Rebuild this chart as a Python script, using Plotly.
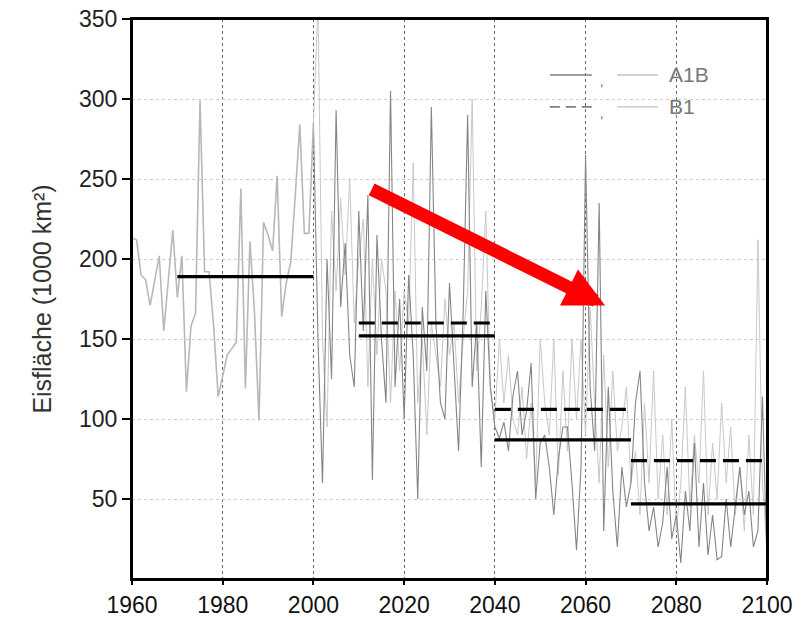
import plotly.graph_objects as go

# ---------------- data ----------------
hist_years = list(range(1960, 2001))
hist_vals = [213, 212, 190, 187, 171, 187, 202, 155, 186, 218,
             176, 202, 117, 158, 166, 299, 192, 192, 158, 114,
             127, 140, 144, 148, 244, 119, 211, 167, 99, 223,
             215, 205, 252, 164, 185, 198, 240, 284, 216, 216, 285]

scen_years = list(range(2001, 2101))
a1b_vals = [150, 60, 200, 125, 293, 170, 210, 140, 120, 230,
            155, 240, 62, 215, 150, 110, 305, 120, 175, 100,
            190, 140, 50, 170, 130, 295, 160, 110, 100, 185,
            130, 80, 165, 290, 120, 160, 70, 180, 120, 95,
            88, 98, 80, 115, 130, 90, 105, 135, 50, 85,
            90, 70, 40, 75, 95, 95, 60, 18, 70, 265,
            120, 80, 235, 30, 120, 55, 20, 70, 45, 60,
            110, 130, 60, 30, 45, 20, 35, 70, 25, 40,
            10, 55, 30, 85, 20, 60, 15, 40, 12, 14,
            50, 20, 45, 70, 40, 55, 20, 30, 114, 10]
b1_vals = [360, 150, 95, 230, 180, 238, 190, 250, 160, 200,
           225, 120, 200, 140, 200, 180, 110, 180, 130, 180,
           160, 260, 110, 150, 90, 160, 140, 120, 175, 140,
           160, 110, 150, 180, 300, 130, 170, 230, 120, 100,
           150, 110, 140, 100, 90, 120, 75, 110, 60, 150,
           110, 90, 150, 65, 130, 80, 150, 100, 150, 90,
           170, 110, 60, 140, 70, 130, 80, 95, 120, 60,
           80, 40, 110, 60, 130, 50, 90, 40, 100, 30,
           60, 120, 45, 90, 60, 130, 40, 85, 50, 110,
           60, 95, 40, 70, 30, 90, 40, 212, 60, 20]

# period means: (start, end, value)
period_starts = [1970, 2010, 2040, 2070]
period_ends = [2000, 2040, 2070, 2100]
a1b_means = [189, 152, 87, 47]
b1_means = [None, 160, 106, 74]

arrow_start = (2012.5, 244)
arrow_end = (2064.3, 171)

xticks = [1960, 1980, 2000, 2020, 2040, 2060, 2080, 2100]
yticks = [50, 100, 150, 200, 250, 300, 350]

# ---------------- figure ----------------
fig = go.Figure()

fig.add_trace(go.Scatter(x=[hist_years[-1]] + scen_years, y=[hist_vals[-1]] + b1_vals,
                         mode="lines", line=dict(color="#c8c8c8", width=1.0),
                         showlegend=False, hoverinfo="skip"))
fig.add_trace(go.Scatter(x=[hist_years[-1]] + scen_years, y=[hist_vals[-1]] + a1b_vals,
                         mode="lines", line=dict(color="#858585", width=1.1),
                         showlegend=False, hoverinfo="skip"))
fig.add_trace(go.Scatter(x=hist_years, y=hist_vals,
                         mode="lines", line=dict(color="#b8b8b8", width=1.6),
                         showlegend=False, hoverinfo="skip"))

for s, e, m in zip(period_starts, period_ends, a1b_means):
    fig.add_trace(go.Scatter(x=[s, e], y=[m, m], mode="lines",
                             line=dict(color="black", width=3.2),
                             showlegend=False, hoverinfo="skip"))
for s, e, m in zip(period_starts, period_ends, b1_means):
    if m is None:
        continue
    fig.add_trace(go.Scatter(x=[s, e], y=[m, m], mode="lines",
                             line=dict(color="black", width=3.2, dash="16px,7px"),
                             showlegend=False, hoverinfo="skip"))

# red arrow
fig.add_annotation(x=arrow_end[0], y=arrow_end[1], ax=arrow_start[0], ay=arrow_start[1],
                   xref="x", yref="y", axref="x", ayref="y", text="",
                   showarrow=True, arrowhead=2, arrowsize=0.62, arrowwidth=13,
                   arrowcolor="#ff0000", standoff=0)

# custom legend
leg_rows = [(0.90, "A1B", "solid"), (0.843, "B1", "dash")]
for ypos, label, dash in leg_rows:
    fig.add_shape(type="line", xref="paper", yref="paper",
                  x0=0.658, x1=0.724, y0=ypos, y1=ypos,
                  line=dict(color="#808080", width=1.6, dash="10px,6px" if dash == "dash" else "solid"))
    fig.add_shape(type="line", xref="paper", yref="paper",
                  x0=0.764, x1=0.828, y0=ypos, y1=ypos,
                  line=dict(color="#c0c0c0", width=1.3))
    fig.add_annotation(x=0.739, y=ypos - 0.012, xref="paper", yref="paper", text=",",
                       showarrow=False, font=dict(size=12, color="#555555"),
                       xanchor="center", yanchor="middle")
    fig.add_annotation(x=0.842, y=ypos, xref="paper", yref="paper", text=label,
                       showarrow=False, font=dict(size=21, color="#777777"),
                       xanchor="left", yanchor="middle")

# plot frame (drawn on top so the upper edge stays visible)
fig.add_shape(type="rect", xref="paper", yref="paper", x0=0, x1=1, y0=0, y1=1,
              line=dict(color="black", width=2), layer="above")

fig.update_layout(
    width=808, height=617,
    margin=dict(l=132, r=41, t=19, b=38, autoexpand=False),
    paper_bgcolor="white", plot_bgcolor="white",
    font=dict(family="Liberation Sans, Arial, sans-serif", color="#222222"),
)
fig.update_xaxes(range=[1960, 2100], tickvals=xticks, ticks="outside", ticklen=4,
                 tickwidth=1.5, tickcolor="black", automargin=False,
                 ticklabeloverflow="allow",
                 tickfont=dict(size=23, color="#111111"),
                 showline=True, linecolor="black", linewidth=2, mirror=True,
                 showgrid=True, gridcolor="#666666", gridwidth=1.3, griddash="dot",
                 zeroline=False)
fig.update_yaxes(range=[0, 350], tickvals=yticks, ticks="outside", ticklen=8,
                 tickwidth=1.5, tickcolor="black", automargin=False,
                 ticklabeloverflow="allow",
                 tickfont=dict(size=23, color="#222222"),
                 showline=True, linecolor="black", linewidth=2, mirror=True,
                 showgrid=True, gridcolor="#cccccc", gridwidth=1.2, griddash="dot",
                 zeroline=False,
                 title=dict(text="Eisfläche (1000 km²)", font=dict(size=25, color="#333333"),
                            standoff=20))

fig.write_html("out.html", config={"displayModeBar": False},
               post_script="document.body.style.margin='0px';document.body.style.overflow='hidden';")
